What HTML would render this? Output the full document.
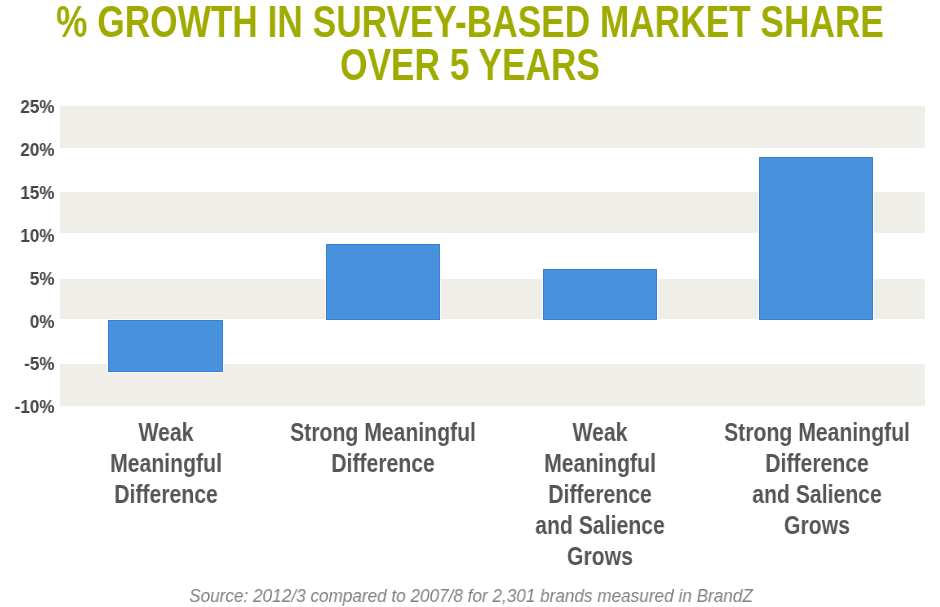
<!DOCTYPE html><html><head><meta charset="utf-8"><style>
html,body{margin:0;padding:0;background:#fff;}
body{width:940px;height:607px;position:relative;overflow:hidden;font-family:"Liberation Sans",sans-serif;}
.a{position:absolute;}
.t,.yl,.cl,.src{will-change:transform;}
.t{position:absolute;left:-200px;width:1340px;text-align:center;white-space:nowrap;font-weight:bold;font-size:44px;line-height:43px;color:#a0ab00;transform:scaleX(0.801);transform-origin:670px 0;}
.band{position:absolute;left:60px;width:865px;background:#efeee9;}
.bar{position:absolute;background:#4892dd;box-sizing:border-box;border:1px solid #3580d8;box-shadow:0 0 0 1px #fffdf5;}
.yl{position:absolute;left:0;width:54.5px;text-align:right;font-weight:bold;font-size:18px;line-height:20px;color:#444444;white-space:nowrap;transform:scaleX(0.95);transform-origin:54.5px 0;}
.cl{position:absolute;width:400px;text-align:center;font-weight:bold;font-size:26px;line-height:30.9px;color:#555555;white-space:nowrap;transform:scaleX(0.815);transform-origin:200px 0;}
.src{position:absolute;left:0.8px;width:940px;text-align:center;font-style:italic;font-size:18px;line-height:20px;color:#808080;white-space:nowrap;transform:scaleX(0.953);transform-origin:470px 0;}
</style></head><body>
<div class="t" style="top:0px">% GROWTH IN SURVEY-BASED MARKET SHARE</div>
<div class="t" style="top:43px">OVER 5 YEARS</div>
<div class="band" style="top:106.00px;height:42.30px"></div>
<div class="band" style="top:191.60px;height:41.90px"></div>
<div class="band" style="top:278.60px;height:40.80px"></div>
<div class="band" style="top:364.00px;height:42.00px"></div>
<div class="yl" style="top:97.25px">25%</div>
<div class="yl" style="top:140.11px">20%</div>
<div class="yl" style="top:182.96px">15%</div>
<div class="yl" style="top:225.82px">10%</div>
<div class="yl" style="top:268.68px">5%</div>
<div class="yl" style="top:311.54px">0%</div>
<div class="yl" style="top:354.39px">-5%</div>
<div class="yl" style="top:397.25px">-10%</div>
<div class="bar" style="left:108px;width:115px;top:319.80px;height:52.00px"></div>
<div class="bar" style="left:326px;width:114px;top:243.50px;height:76.30px"></div>
<div class="bar" style="left:543px;width:114px;top:269.00px;height:50.80px"></div>
<div class="bar" style="left:759px;width:114px;top:156.80px;height:163.00px"></div>
<div class="cl" style="left:-34.50px;top:416.84px">Weak</div>
<div class="cl" style="left:-34.50px;top:447.84px">Meaningful</div>
<div class="cl" style="left:-34.50px;top:478.84px">Difference</div>
<div class="cl" style="left:183.00px;top:416.84px">Strong Meaningful</div>
<div class="cl" style="left:183.00px;top:447.84px">Difference</div>
<div class="cl" style="left:400.00px;top:416.84px">Weak</div>
<div class="cl" style="left:400.00px;top:447.84px">Meaningful</div>
<div class="cl" style="left:400.00px;top:478.84px">Difference</div>
<div class="cl" style="left:400.00px;top:509.84px">and Salience</div>
<div class="cl" style="left:400.00px;top:540.84px">Grows</div>
<div class="cl" style="left:617.00px;top:416.84px">Strong Meaningful</div>
<div class="cl" style="left:617.00px;top:447.84px">Difference</div>
<div class="cl" style="left:617.00px;top:478.84px">and Salience</div>
<div class="cl" style="left:617.00px;top:509.84px">Grows</div>
<div class="src" style="top:585.50px">Source: 2012/3 compared to 2007/8 for 2,301 brands measured in BrandZ</div>
</body></html>
